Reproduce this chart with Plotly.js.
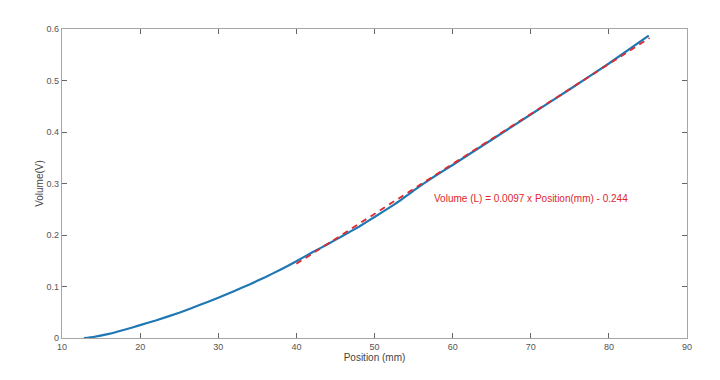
<!DOCTYPE html>
<html>
<head>
<meta charset="utf-8">
<script src="https://cdn.plot.ly/plotly-3.0.1.min.js"></script>
<style>html,body{margin:0;padding:0;background:#fff;}#chart{width:720px;height:380px;}</style>
</head>
<body>
<div id="chart"></div>
<script>
// Measured curve
var positionMm = [12.8, 14, 16, 18, 20, 22, 25, 27.6, 30, 32, 34, 36, 38, 40, 42, 44, 46, 48, 50, 52, 53, 54, 55, 56, 58, 60, 65, 70, 75, 80, 85.1];
var volumeV    = [0, 0.002, 0.008, 0.016, 0.025, 0.034, 0.049, 0.064, 0.078, 0.091, 0.104, 0.118, 0.133, 0.149, 0.166, 0.182, 0.199, 0.216, 0.235, 0.254, 0.264, 0.275, 0.286, 0.297, 0.317, 0.336, 0.385, 0.434, 0.483, 0.533, 0.587];
// Linear fit
var fitX = [40, 85.2];
var fitSlope = 0.0097;
var fitIntercept = -0.244;
var fitY = fitX.map(function (x) { return fitSlope * x + fitIntercept; });
var fitLabel = 'Volume (L) = 0.0097 x Position(mm) - 0.244';
var xTicks = [10, 20, 30, 40, 50, 60, 70, 80, 90];
var yTicks = [0, 0.1, 0.2, 0.3, 0.4, 0.5, 0.6];

var axisCommon = {
  showgrid: false, zeroline: false, showline: true, mirror: 'ticks',
  linecolor: '#a6a6a6', linewidth: 1.2,
  ticks: 'inside', ticklen: 5, tickcolor: '#666', tickwidth: 1,
  tickfont: {family: 'Liberation Sans, Arial, sans-serif', size: 9, color: '#555'}
};

var data = [
  {x: positionMm, y: volumeV, type: 'scatter', mode: 'lines', line: {color: '#1f77b4', width: 2.2, shape: 'spline', smoothing: 0.3}, hoverinfo: 'none'},
  {x: fitX, y: fitY, type: 'scatter', mode: 'lines', line: {color: '#e02a2e', width: 1.8, dash: '6px,5px'}, hoverinfo: 'none'}
];

var layout = {
  width: 720, height: 380,
  margin: {l: 62, r: 33, t: 29, b: 42},
  paper_bgcolor: '#fff', plot_bgcolor: '#fff',
  showlegend: false,
  xaxis: Object.assign({}, axisCommon, {
    range: [10, 90], tickvals: xTicks, ticktext: xTicks.map(String),
    title: {text: 'Position (mm)', font: {family: 'Liberation Sans, Arial, sans-serif', size: 10, color: '#444'}, standoff: 3}
  }),
  yaxis: Object.assign({}, axisCommon, {
    range: [0, 0.6], tickvals: yTicks, ticktext: yTicks.map(String),
    title: {text: 'Volume(V)', font: {family: 'Liberation Sans, Arial, sans-serif', size: 10, color: '#444'}, standoff: 1}
  }),
  annotations: [{
    x: 70.0, y: 0.27, xref: 'x', yref: 'y', text: fitLabel, showarrow: false,
    font: {family: 'Liberation Sans, Arial, sans-serif', size: 10, color: '#e0262b'}
  }]
};

Plotly.newPlot('chart', data, layout, {staticPlot: true, displayModeBar: false});
</script>
</body>
</html>
